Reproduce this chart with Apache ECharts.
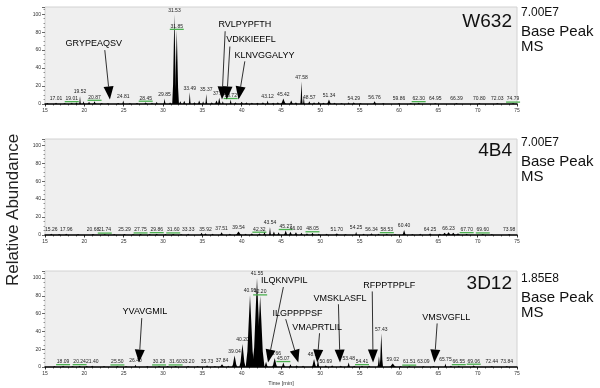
<!DOCTYPE html>
<html>
<head>
<meta charset="utf-8">
<script src="https://cdn.jsdelivr.net/npm/echarts@6/dist/echarts.min.js"></script>
<style>
  html, body { margin: 0; padding: 0; background: #fff; }
  #chart { width: 600px; height: 388px; }
</style>
</head>
<body>
<div id="chart"></div>
<script>
// panel names and base peak scale
const panelNames = ['W632', '4B4', '3D12'];
const panelScales = ['7.00E7', '7.00E7', '1.85E8'];
const xTicks = [15, 75, 5];
const yTicks = [0, 100, 20];

// W632: peak apex time (min), relative abundance, half base width (min), label
const aTimes = [15.3, 16.4, 17.5, 18.4, 19.0, 19.45, 19.9, 20.6, 21.3, 22.2,
  23.0, 24.3, 24.95, 25.8, 26.7, 27.8, 28.6, 29.2, 30.2, 30.9,
  31.45, 31.75, 32.2, 32.7, 33.4, 34.0, 34.6, 35.1, 35.5, 36.2,
  36.8, 37.15, 37.6, 38.6, 39.2, 40.0, 40.6, 41.3, 42.0, 42.7,
  43.3, 44.0, 44.6, 45.3, 46.3, 46.9, 47.6, 47.9, 48.6, 49.2,
  49.8, 50.4, 51.1, 51.8, 52.7, 53.6, 54.25, 55.1, 56.9, 58.0,
  60.0, 61.5, 62.5, 64.6, 67.3, 70.2, 72.5, 74.5];
const aHeights = [1.2, 1.5, 1, 1.5, 2, 9, 3, 2.5, 3, 1.2,
  1, 1.2, 4, 1, 1.2, 2, 1.5, 2.5, 6, 2,
  100, 82, 3, 3.5, 13, 2, 4, 3, 11, 2,
  4, 7, 3, 5, 2, 2.5, 2, 1.5, 1.5, 2,
  4, 1.5, 2, 6, 4, 2, 25, 8, 3, 2,
  2.5, 1.5, 5, 1.5, 1, 2, 2, 1, 3, 1,
  1, 1, 1.5, 1, 1, 1, 1, 1];
const aWidths = [.15, .2, .2, .2, .15, .12, .15, .2, .2, .2,
  .2, .2, .15, .2, .2, .2, .2, .15, .15, .15,
  .28, .28, .2, .2, .13, .2, .2, .15, .13, .2,
  .25, .2, .15, .15, .2, .2, .2, .2, .2, .2,
  .15, .2, .2, .35, .25, .2, .15, .12, .2, .2,
  .2, .2, .3, .2, .2, .15, .2, .2, .25, .2,
  .2, .2, .2, .2, .2, .2, .2, .2];
const aLabels = ['', '17.01', '', '19.01', '', '19.52', '', '', '20.87', '',
  '', '', '24.81', '', '', '28.45', '', '', '29.85', '',
  '31.53', '31.85', '', '', '33.49', '', '', '', '35.37', '',
  '', '37.15', '', '38.72', '', '', '', '', '', '',
  '43.12', '', '', '45.42', '', '', '47.58', '', '48.57', '',
  '', '', '51.34', '', '', '', '54.29', '', '56.76', '',
  '59.86', '', '62.30', '64.95', '66.39', '70.80', '72.03', '74.79'];
const aGreen = ['19.01', '20.87', '28.45', '31.85', '38.72', '62.30', '74.79'];

// 4B4
const bTimes = [15.8, 16.8, 17.7, 19.2, 21.1, 22.6, 23.8, 25.1, 26.2, 27.15,
  28.3, 29.2, 30.3, 31.3, 32.3, 33.2, 34.9, 35.4, 36.3, 37.45,
  38.5, 39.6, 40.5, 41.3, 42.25, 42.9, 43.6, 44.1, 44.7, 45.6,
  46.2, 46.9, 47.6, 48.3, 49.0, 49.8, 50.8, 52.1, 53.2, 54.55,
  55.5, 56.5, 57.4, 58.45, 59.5, 60.65, 61.7, 62.7, 63.95, 65.2,
  65.8, 66.3, 66.9, 67.5, 68.6, 70.65, 71.8, 74.0];
const bHeights = [1.5, 1, 1.5, 1, 1.2, 1, 1, 1.2, 1, 1.2,
  1, 1.5, 1, 1.2, 1, 1.5, 2.5, 2, 1.5, 3,
  1.5, 4, 1.5, 2, 2, 3, 9, 4, 3, 5,
  3.5, 3, 2.5, 2, 2.5, 1.5, 1.5, 2, 1, 3.5,
  1.5, 2, 1.5, 1.5, 1, 5.5, 1, 1.5, 2, 1.5,
  2.5, 3, 2.5, 2, 1.5, 1.2, 1, 1];
const bWidths = [.2, .2, .2, .2, .2, .2, .2, .2, .2, .2,
  .2, .2, .2, .2, .2, .2, .2, .2, .2, .25,
  .2, .4, .2, .2, .2, .2, .14, .2, .2, .25,
  .25, .25, .2, .2, .2, .2, .2, .25, .2, .15,
  .2, .2, .2, .2, .2, .25, .2, .2, .2, .2,
  .3, .35, .3, .3, .2, .2, .2, .2];
const bLabels = ['15.26', '', '17.96', '', '20.68', '21.74', '', '25.29', '', '27.75',
  '', '29.86', '', '31.60', '', '33.33', '', '35.92', '', '37.51',
  '', '39.54', '', '', '42.32', '', '43.54', '', '', '45.27',
  '', '46.00', '', '', '48.05', '', '', '51.70', '', '54.25',
  '', '56.34', '', '58.53', '', '60.40', '', '', '64.25', '',
  '', '66.23', '', '', '67.70', '69.60', '', '73.98'];
const bGreen = ['21.74', '27.75', '29.86', '31.60', '42.32', '45.27', '48.05', '58.53', '67.70', '69.60'];

// 3D12
const cTimes = [16.2, 17.3, 18.5, 19.4, 20.3, 21.0, 22.5, 24.2, 25.3, 26.5,
  28.0, 29.5, 30.6, 31.6, 33.2, 34.4, 35.6, 36.6, 37.5, 38.3,
  39.1, 40.1, 41.06, 41.95, 42.35, 43.1, 44.2, 45.3, 46.2, 47.0,
  47.8, 49.2, 49.7, 50.7, 51.5, 52.6, 53.6, 54.3, 55.3, 56.2,
  57.45, 57.75, 59.2, 60.2, 61.3, 63.1, 64.4, 65.9, 66.6, 67.6,
  69.5, 71.8, 73.7];
const cHeights = [1, 1.5, 1, 1.5, 1, 1.5, 1, 1.2, 1, 2.5,
  1, 1.2, 1, 1.2, 1.2, 1, 2, 1, 3, 1.5,
  13, 26, 81, 100, 80, 6, 10, 5, 3, 2,
  1.5, 9, 8, 2, 2, 1.5, 5, 1.5, 1.5, 1.5,
  12, 38, 4, 1, 1, 1, 1, 4, 1.5, 1.5,
  2, 1, 1];
const cWidths = [.2, .2, .2, .2, .2, .2, .2, .2, .2, .15,
  .2, .2, .2, .2, .2, .2, .2, .2, .35, .2,
  .35, .4, .55, .6, .55, .25, .35, .25, .2, .2,
  .2, .3, .2, .2, .2, .2, .2, .2, .2, .2,
  .2, .22, .45, .2, .2, .2, .2, .15, .2, .2,
  .2, .2, .2];
const cLabels = ['', '18.09', '', '20.24', '', '21.40', '', '25.50', '', '26.40',
  '', '30.29', '', '31.60', '33.20', '', '35.73', '', '37.84', '',
  '39.04', '40.20', '40.95', '41.55', '42.20', '', '43.66', '45.07', '', '',
  '', '48.55', '', '50.69', '', '', '53.48', '', '54.41', '',
  '', '57.43', '59.02', '', '61.51', '63.09', '', '65.75', '', '66.55',
  '69.06', '72.44', '73.84'];
const cGreen = ['18.09', '20.24', '25.50', '30.29', '31.60', '42.20', '45.07', '54.41', '61.51', '66.55', '69.06'];

// peptide annotations: text centre, arrow start, arrow tip (time, abundance)
const aPeptides = [
  { text: 'GRYPEAQSV', at: [21.2, 67.6], from: [22.6, 60], to: [23.25, 5] },
  { text: 'RVLPYPFTH', at: [40.4, 88.8], from: [37.9, 81], to: [37.5, 5] },
  { text: 'VDKKIEEFL', at: [41.2, 72], from: [38.5, 64], to: [38.1, 5] },
  { text: 'KLNVGGALYY', at: [42.9, 54], from: [40.4, 47.5], to: [39.6, 5] }
];
const cPeptides = [
  { text: 'YVAVGMIL', at: [27.7, 62.8], from: [27.3, 55], to: [26.95, 5] },
  { text: 'ILQKNVPIL', at: [45.4, 97], from: [45.3, 90], to: [43.35, 5] },
  { text: 'ILGPPPPSF', at: [47.1, 60.5], from: [45.6, 53.8], to: [47.2, 5] },
  { text: 'VMAPRTLIL', at: [49.6, 44.8], from: [49.9, 38], to: [49.6, 5] },
  { text: 'VMSKLASFL', at: [52.5, 77.5], from: [52.3, 70.6], to: [52.5, 5] },
  { text: 'RFPPTPPLF', at: [58.75, 92], from: [56.6, 85], to: [56.7, 5] },
  { text: 'VMSVGFLL', at: [66.0, 56], from: [64.85, 49], to: [64.5, 5] }
];

const FONT = '"Liberation Sans", Arial, Helvetica, sans-serif';
// glyph of a single chromatographic peak, in units of half width / height
const PEAK_SHAPE = [[-1, 0], [-0.6, 0.22], [-0.3, 0.62], [0, 1], [0.3, 0.62], [0.6, 0.22], [1, 0]];

const grids = [
  { top: 7, height: 97, ymax: 108 },
  { top: 139, height: 96, ymax: 107 },
  { top: 271, height: 96, ymax: 108 }
];

const chart = echarts.init(document.getElementById('chart'));

function peakSeries(idx, times, heights, widths, labels, greens) {
  return {
    type: 'custom',
    xAxisIndex: idx,
    yAxisIndex: idx,
    clip: false,
    silent: true,
    data: times.map((t, i) => [t, heights[i], widths[i]]),
    encode: { x: 0, y: 1 },
    renderItem: function (params, api) {
      const t = api.value(0), h = api.value(1), w = api.value(2);
      const pts = PEAK_SHAPE.map(p => api.coord([t + p[0] * w, p[1] * h]));
      const children = [{ type: 'polygon', shape: { points: pts }, style: { fill: '#000' } }];
      const lab = labels[params.dataIndex];
      if (lab) {
        const top = api.coord([t, h]);
        if (greens.indexOf(lab) >= 0) {
          children.push({
            type: 'line',
            shape: { x1: top[0] - 7, y1: top[1] - 1, x2: top[0] + 7, y2: top[1] - 1 },
            style: { stroke: '#4cb050', lineWidth: 1.3 }
          });
        }
        children.push({
          type: 'text',
          style: {
            text: lab, x: top[0], y: top[1] - 1.5,
            align: 'center', verticalAlign: 'bottom',
            fontSize: 5, fontFamily: FONT, fill: '#222'
          }
        });
      }
      return { type: 'group', children: children };
    }
  };
}

function peptideSeries(idx, anns) {
  return {
    type: 'custom',
    xAxisIndex: idx,
    yAxisIndex: idx,
    clip: false,
    silent: true,
    data: anns.map(a => [a.to[0], a.to[1]]),
    encode: { x: 0, y: 1 },
    renderItem: function (params, api) {
      const a = anns[params.dataIndex];
      const p0 = api.coord(a.from), p1 = api.coord(a.to), pt = api.coord(a.at);
      const dx = p1[0] - p0[0], dy = p1[1] - p0[1];
      const len = Math.sqrt(dx * dx + dy * dy);
      const ux = dx / len, uy = dy / len;
      const headLen = 13, headHalf = 5;
      const bx = p1[0] - ux * headLen, by = p1[1] - uy * headLen;
      return {
        type: 'group',
        children: [
          { type: 'line', shape: { x1: p0[0], y1: p0[1], x2: bx, y2: by }, style: { stroke: '#000', lineWidth: 0.8 } },
          { type: 'polygon', shape: { points: [p1, [bx - uy * headHalf, by + ux * headHalf], [bx + uy * headHalf, by - ux * headHalf]] }, style: { fill: '#000' } },
          { type: 'text', style: { text: a.text, x: pt[0], y: pt[1], align: 'center', verticalAlign: 'middle', fontSize: 9, fontFamily: FONT, fill: '#000' } }
        ]
      };
    }
  };
}

const graphic = [{
  type: 'text', x: 13, y: 210, rotation: Math.PI / 2,
  style: { text: 'Relative Abundance', align: 'center', verticalAlign: 'middle', fontSize: 17, fontFamily: FONT, fill: '#222' }
}];
const nameY = [22, 151, 284];
const scaleY = [12.5, 142.5, 279];
panelNames.forEach((n, i) => {
  graphic.push({ type: 'text', style: { text: n, x: 512, y: nameY[i], align: 'right', verticalAlign: 'middle', fontSize: 19, fontFamily: FONT, fill: '#111' } });
  graphic.push({ type: 'text', style: { text: panelScales[i], x: 521, y: scaleY[i], align: 'left', verticalAlign: 'middle', fontSize: 12, fontFamily: FONT, fill: '#111' } });
  graphic.push({ type: 'text', style: { text: 'Base Peak', x: 521, y: scaleY[i] + 19, align: 'left', verticalAlign: 'middle', fontSize: 15, fontFamily: FONT, fill: '#111' } });
  graphic.push({ type: 'text', style: { text: 'MS', x: 521, y: scaleY[i] + 34, align: 'left', verticalAlign: 'middle', fontSize: 15, fontFamily: FONT, fill: '#111' } });
});

const option = {
  animation: false,
  backgroundColor: '#fff',
  grid: grids.map(g => ({
    left: 45, width: 472, top: g.top, height: g.height,
    show: true, backgroundColor: '#efefef', borderColor: '#d2d2d2', borderWidth: 1
  })),
  xAxis: grids.map((g, i) => ({
    gridIndex: i,
    type: 'value',
    min: xTicks[0], max: xTicks[1], interval: xTicks[2],
    name: i === 2 ? 'Time [min]' : '',
    nameLocation: 'middle', nameGap: 13,
    nameTextStyle: { fontSize: 5.5, fontFamily: FONT, color: '#333' },
    axisLine: { lineStyle: { color: '#000', width: 1.5 } },
    axisTick: { length: 2.5, lineStyle: { color: '#000', width: 0.8 } },
    minorTick: { show: true, splitNumber: 5, length: 1.5, lineStyle: { color: '#000', width: 0.6 } },
    axisLabel: { fontSize: 5, fontFamily: FONT, color: '#333', margin: 4 },
    splitLine: { show: false }
  })),
  yAxis: grids.map((g, i) => ({
    gridIndex: i,
    type: 'value',
    min: yTicks[0], max: g.ymax, interval: yTicks[2],
    axisLine: { show: false },
    axisTick: { show: true, length: 3, lineStyle: { color: '#444', width: 0.8 } },
    minorTick: { show: true, splitNumber: 4, length: 1.5, lineStyle: { color: '#555', width: 0.6 } },
    axisLabel: { fontSize: 5, fontFamily: FONT, color: '#333', margin: 4, showMaxLabel: false },
    splitLine: { show: false }
  })),
  series: [
    peakSeries(0, aTimes, aHeights, aWidths, aLabels, aGreen),
    peakSeries(1, bTimes, bHeights, bWidths, bLabels, bGreen),
    peakSeries(2, cTimes, cHeights, cWidths, cLabels, cGreen),
    peptideSeries(0, aPeptides),
    peptideSeries(2, cPeptides)
  ],
  graphic: graphic
};

chart.setOption(option);
</script>
</body>
</html>
